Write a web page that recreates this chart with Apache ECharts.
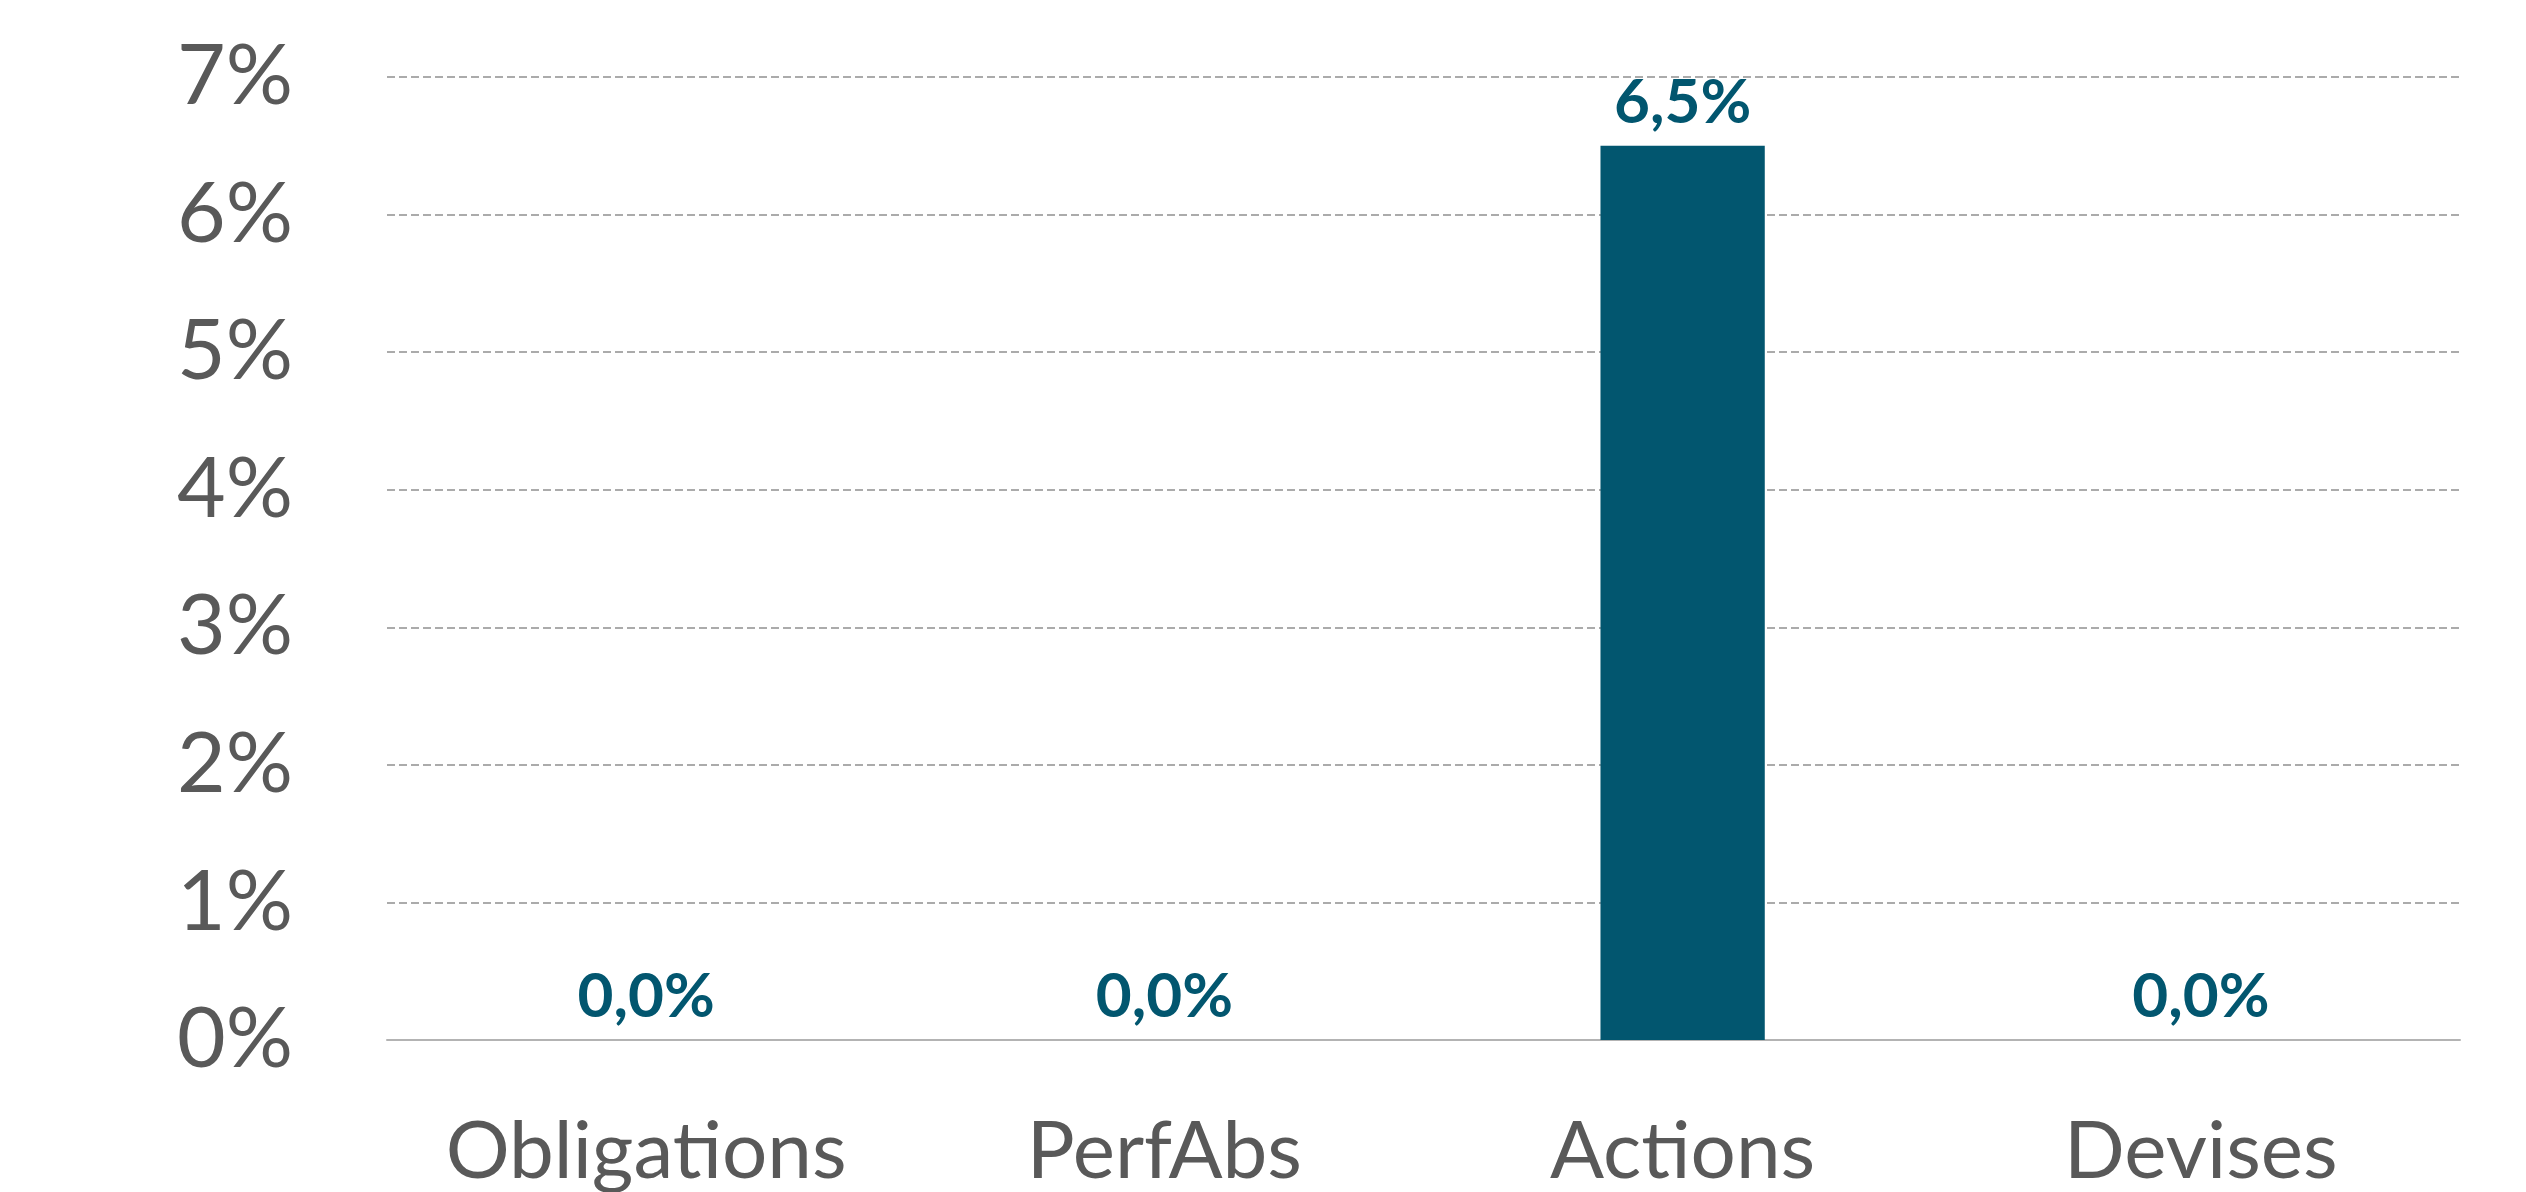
<!DOCTYPE html>
<html>
<head>
<meta charset="utf-8">
<script src="https://cdn.jsdelivr.net/npm/echarts@6/dist/echarts.min.js"></script>
<style>
  html, body { margin: 0; padding: 0; background: #fff; }
  #chart { width: 2526px; height: 1192px; }
</style>
</head>
<body>
<div id="chart"></div>
<script>
// données du graphique
const categories = ['Obligations', 'PerfAbs', 'Actions', 'Devises']
const values = [0.0, 0.0, 6.5, 0.0]
const yTicks = [0, 1, 2, 3, 4, 5, 6, 7]

const barColor = '#02566f'
const textGrey = '#595959'

const chart = echarts.init(document.getElementById('chart'))

const option = {
  animation: false,
  grid: { left: 387, right: 66, top: 77, bottom: 150, containLabel: false },
  xAxis: {
    type: 'category',
    data: categories,
    axisLine: { show: true, lineStyle: { color: '#b3b3b3', width: 2 } },
    axisTick: { show: false },
    axisLabel: {
      interval: 0,
      color: textGrey,
      fontFamily: 'Lato',
      fontSize: 80,
      margin: 72
    }
  },
  yAxis: {
    type: 'value',
    min: yTicks[0],
    max: yTicks[yTicks.length - 1],
    interval: 1,
    axisLine: { show: false },
    axisTick: { show: false },
    axisLabel: {
      color: textGrey,
      fontFamily: 'Lato',
      fontSize: 84,
      margin: 94,
      formatter: v => v + '%'
    },
    splitLine: {
      show: true,
      lineStyle: { color: '#ababab', width: 2, type: [8, 4] }
    }
  },
  series: [
    {
      type: 'bar',
      data: values,
      barWidth: '31.7%',
      itemStyle: { color: barColor },
      label: {
        show: true,
        position: 'top',
        distance: 12,
        color: barColor,
        fontFamily: 'Lato',
        fontWeight: 'bold',
        fontSize: 62,
        formatter: p => p.value.toFixed(1).replace('.', ',') + '%'
      }
    }
  ]
}

chart.setOption(option)
</script>
</body>
</html>
